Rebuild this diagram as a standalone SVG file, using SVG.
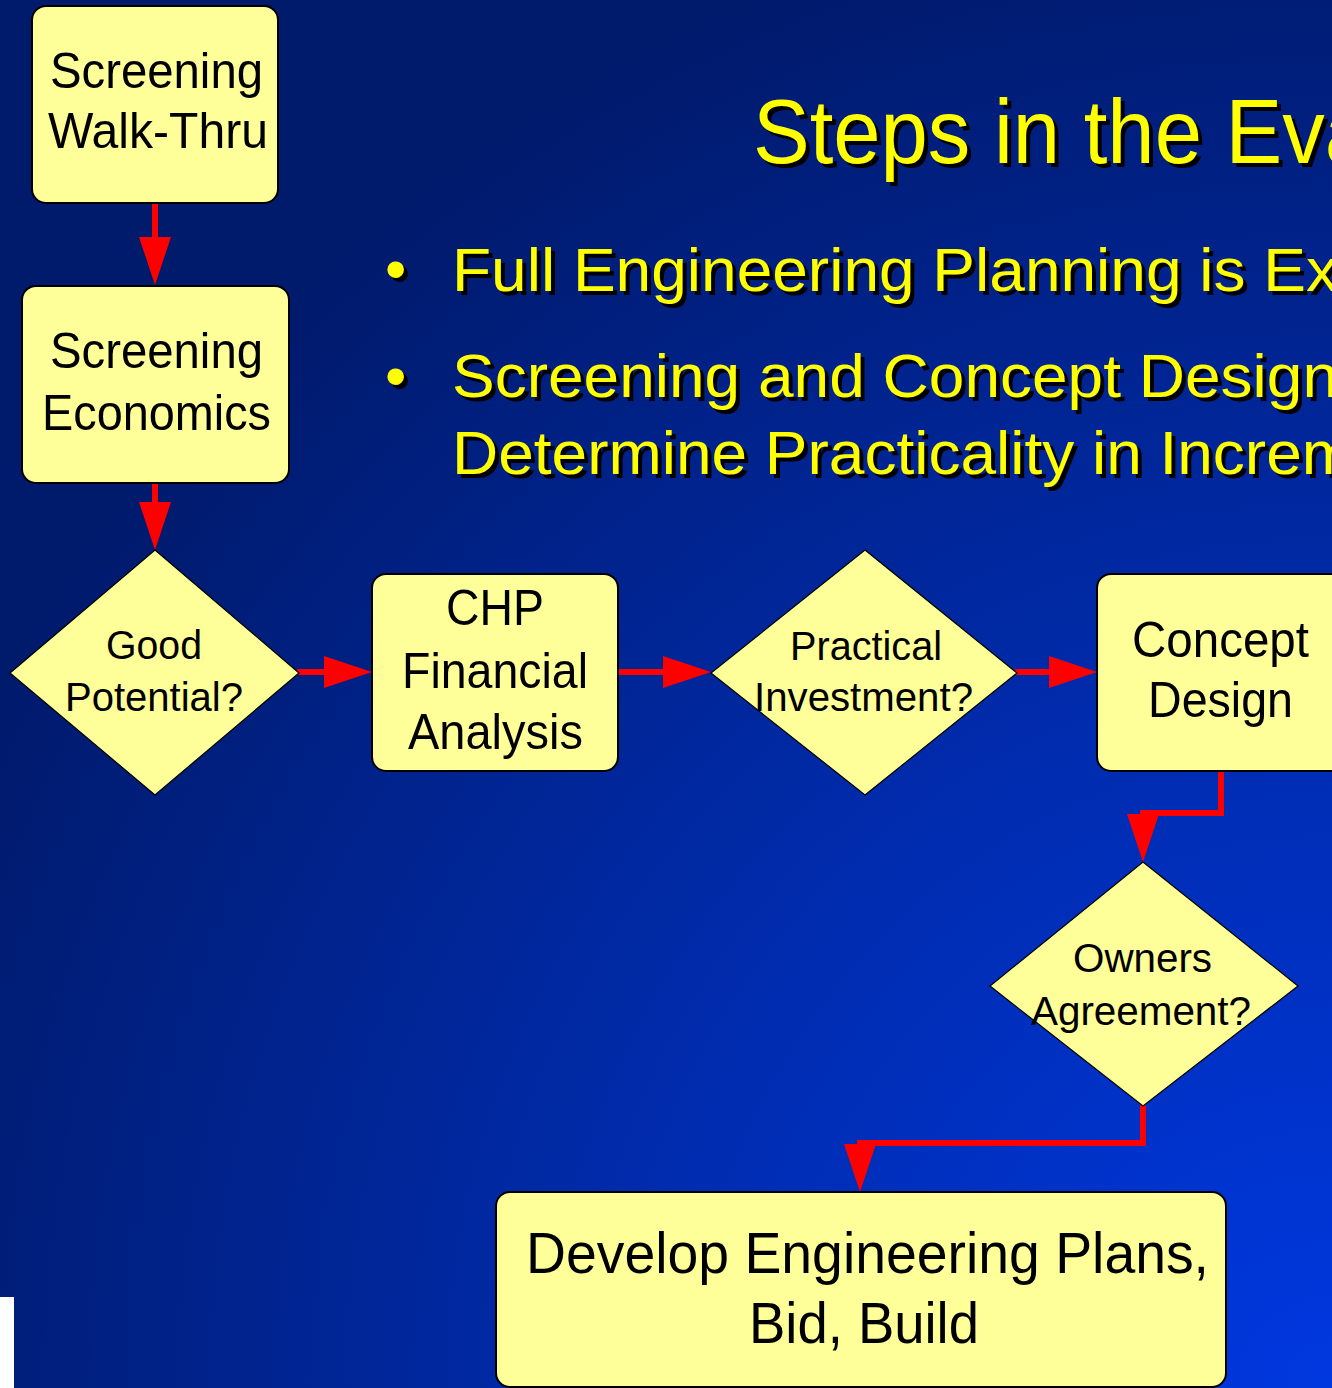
<svg xmlns="http://www.w3.org/2000/svg" width="1332" height="1388" viewBox="0 0 1332 1388">
  <defs>
    <radialGradient id="bg" gradientUnits="userSpaceOnUse" cx="1332" cy="1388" r="1500">
      <stop offset="0" stop-color="#0038e0"/>
      <stop offset="0.45" stop-color="#002cb0"/>
      <stop offset="1" stop-color="#001a6c"/>
    </radialGradient>
    <marker id="ah" markerUnits="userSpaceOnUse" markerWidth="48" markerHeight="32" refX="0" refY="16" orient="auto" overflow="visible">
      <path d="M0,0 L48,16 L0,32 Z" fill="#ff0000"/>
    </marker>
    <style>
      .box { fill: #ffff99; stroke: #000; stroke-width: 2; }
      .dia { fill: #ffff99; stroke: #000; stroke-width: 1.2; }
      .nt { font-family: "Liberation Sans", Arial, sans-serif; fill: #000; }
      .big { font-size: 50px; }
      .sm { font-size: 41px; }
      .xl { font-size: 57px; }
      .conn { fill: none; stroke: #ff0000; stroke-width: 6; stroke-linecap: round; stroke-linejoin: miter; marker-end: url(#ah); }
      .hd { font-family: "Liberation Sans", Arial, sans-serif; }
      .yel { fill: #ffff00; }
      .shd { fill: #000; }
      .title { font-size: 90px; }
      .bul { font-size: 61px; }
    </style>
  </defs>

  <rect x="0" y="0" width="1332" height="1388" fill="url(#bg)"/>
  <rect x="0" y="1297" width="14" height="91" fill="#ffffff"/>

  <g id="heading" class="hd">
    <text class="shd title" x="757" y="167" textLength="619" lengthAdjust="spacingAndGlyphs">Steps in the Eva</text>
    <text class="yel title" x="753" y="163" textLength="619" lengthAdjust="spacingAndGlyphs">Steps in the Eva</text>

    <text class="shd bul" x="389" y="294">•</text>
    <text class="yel bul" x="385" y="290">•</text>
    <text class="shd bul" x="456" y="295" textLength="886" lengthAdjust="spacingAndGlyphs">Full Engineering Planning is Ex</text>
    <text class="yel bul" x="452" y="291" textLength="886" lengthAdjust="spacingAndGlyphs">Full Engineering Planning is Ex</text>

    <text class="shd bul" x="389" y="401">•</text>
    <text class="yel bul" x="385" y="397">•</text>
    <text class="shd bul" x="456" y="401" textLength="886" lengthAdjust="spacingAndGlyphs">Screening and Concept Design</text>
    <text class="yel bul" x="452" y="397" textLength="886" lengthAdjust="spacingAndGlyphs">Screening and Concept Design</text>
    <text class="shd bul" x="456" y="478" textLength="903" lengthAdjust="spacingAndGlyphs">Determine Practicality in Increm</text>
    <text class="yel bul" x="452" y="474" textLength="903" lengthAdjust="spacingAndGlyphs">Determine Practicality in Increm</text>
  </g>

  <g id="connectors">
    <path class="conn" d="M155,203 V237"/>
    <path class="conn" d="M155,483 V502"/>
    <path class="conn" d="M299,672 H324"/>
    <path class="conn" d="M617,672 H663"/>
    <path class="conn" d="M1017,672 H1049"/>
    <path class="conn" d="M1221,771 V813 H1143 V814"/>
    <path class="conn" d="M1143,1106 V1143 H860 V1144"/>
  </g>

  <g id="walkthru">
    <rect class="box" x="32" y="6" width="246" height="197" rx="14"/>
    <text class="nt big" x="50" y="88" textLength="213" lengthAdjust="spacingAndGlyphs">Screening</text>
    <text class="nt big" x="48" y="148" textLength="220" lengthAdjust="spacingAndGlyphs">Walk-Thru</text>
  </g>

  <g id="economics">
    <rect class="box" x="22" y="286" width="267" height="197" rx="14"/>
    <text class="nt big" x="50" y="368" textLength="213" lengthAdjust="spacingAndGlyphs">Screening</text>
    <text class="nt big" x="42" y="430" textLength="229" lengthAdjust="spacingAndGlyphs">Economics</text>
  </g>

  <g id="good-potential">
    <polygon class="dia" points="155,550 299,673 155,795 10,673"/>
    <text class="nt sm" x="106" y="659" textLength="96" lengthAdjust="spacingAndGlyphs">Good</text>
    <text class="nt sm" x="65" y="711" textLength="178" lengthAdjust="spacingAndGlyphs">Potential?</text>
  </g>

  <g id="chp">
    <rect class="box" x="372" y="574" width="246" height="197" rx="14"/>
    <text class="nt big" x="446" y="625" textLength="98" lengthAdjust="spacingAndGlyphs">CHP</text>
    <text class="nt big" x="402" y="688" textLength="186" lengthAdjust="spacingAndGlyphs">Financial</text>
    <text class="nt big" x="408" y="749" textLength="175" lengthAdjust="spacingAndGlyphs">Analysis</text>
  </g>

  <g id="practical">
    <polygon class="dia" points="865,550 1017,673 865,795 711,673"/>
    <text class="nt sm" x="790" y="660" textLength="152" lengthAdjust="spacingAndGlyphs">Practical</text>
    <text class="nt sm" x="754" y="711" textLength="219" lengthAdjust="spacingAndGlyphs">Investment?</text>
  </g>

  <g id="concept">
    <rect class="box" x="1097" y="574" width="270" height="197" rx="14"/>
    <text class="nt big" x="1132" y="657" textLength="177" lengthAdjust="spacingAndGlyphs">Concept</text>
    <text class="nt big" x="1148" y="717" textLength="145" lengthAdjust="spacingAndGlyphs">Design</text>
  </g>

  <g id="owners">
    <polygon class="dia" points="1143,862 1298,986 1143,1106 990,986"/>
    <text class="nt sm" x="1073" y="972" textLength="139" lengthAdjust="spacingAndGlyphs">Owners</text>
    <text class="nt sm" x="1031" y="1025" textLength="220" lengthAdjust="spacingAndGlyphs">Agreement?</text>
  </g>

  <g id="develop">
    <rect class="box" x="496" y="1192" width="730" height="195" rx="14"/>
    <text class="nt xl" x="526" y="1273" textLength="683" lengthAdjust="spacingAndGlyphs">Develop Engineering Plans,</text>
    <text class="nt xl" x="749" y="1343" textLength="230" lengthAdjust="spacingAndGlyphs">Bid, Build</text>
  </g>
</svg>
